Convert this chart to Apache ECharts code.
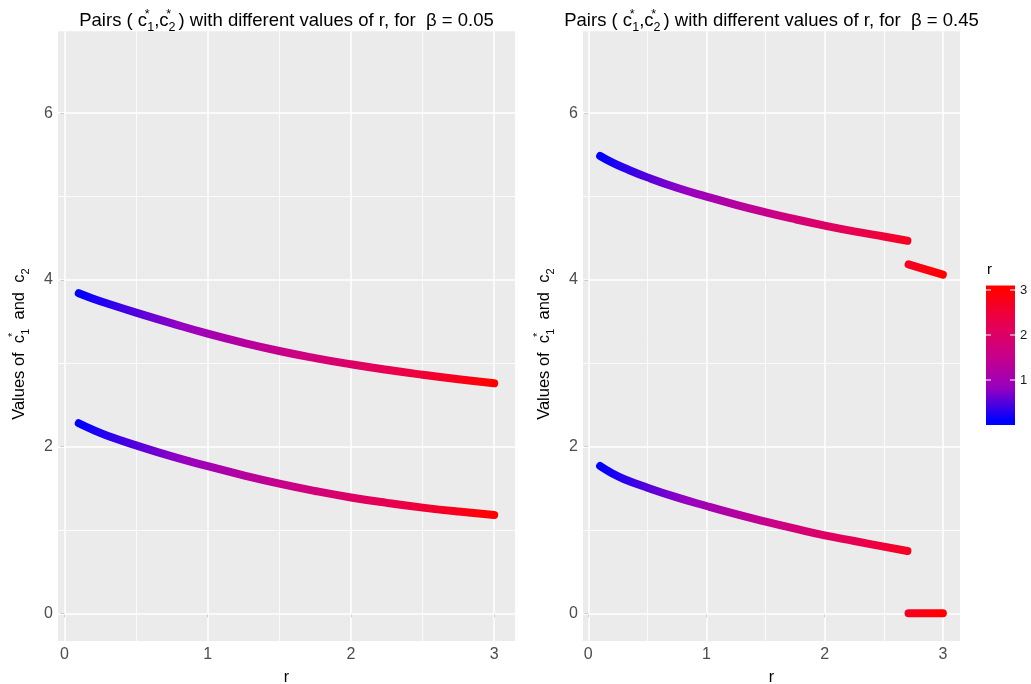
<!DOCTYPE html>
<html>
<head>
<meta charset="utf-8">
<script src="https://cdn.jsdelivr.net/npm/echarts@6/dist/echarts.min.js"></script>
<style>
  html, body { margin: 0; padding: 0; background: #ffffff; }
  #chart { width: 1031px; height: 684px; }
</style>
</head>
<body>
<div id="chart"></div>
<script>
// beta = 0.05 : optimal pairs for each r
const rLeft      = [0.1, 0.2, 0.3, 0.5, 0.75, 1, 1.25, 1.5, 1.75, 2, 2.25, 2.5, 2.75, 3];
const lowerLeft  = [2.28, 2.20, 2.13, 2.015, 1.882, 1.765, 1.655, 1.555, 1.467, 1.39, 1.325, 1.268, 1.22, 1.18];
const upperLeft  = [3.84, 3.775, 3.716, 3.607, 3.478, 3.355, 3.245, 3.147, 3.062, 2.987, 2.921, 2.862, 2.808, 2.76];

// beta = 0.45 : first branch up to r = 2.7, then the branch after the jump
const rRight         = [0.1, 0.2, 0.3, 0.5, 0.75, 1, 1.25, 1.5, 1.75, 2, 2.25, 2.5, 2.7];
const lowerRight     = [1.767, 1.68, 1.612, 1.507, 1.39, 1.287, 1.19, 1.10, 1.015, 0.935, 0.867, 0.80, 0.747];
const upperRight     = [5.487, 5.41, 5.345, 5.23, 5.105, 5.0, 4.9, 4.81, 4.728, 4.652, 4.582, 4.52, 4.47];
const rRightTail     = [2.71, 2.8, 2.9, 3.0];
const lowerRightTail = [0, 0, 0, 0];
const upperRightTail = [4.187, 4.148, 4.105, 4.063];

// axis breaks
const xTicks = [0, 1, 2, 3];
const yTicks = [0, 2, 4, 6];
const xMinor = [0.5, 1.5, 2.5];
const yMinor = [1, 3, 5];
const legendTicks = [1, 2, 3];

const FONT = 'Liberation Sans, Arial, Helvetica, sans-serif';
const R_MIN = 0.1, R_MAX = 3;
const GRADIENT = ['#0000FF', '#9700C0', '#C90088', '#E80050', '#FF0000'];

const chart = echarts.init(document.getElementById('chart'), null, { renderer: 'canvas' });

function scriptRich(size) {
  return {
    st: { fontSize: size, fontFamily: FONT, color: '#000', verticalAlign: 'top', lineHeight: size, width: 0.1, align: 'left' },
    sb: { fontSize: size, fontFamily: FONT, color: '#000', verticalAlign: 'bottom', lineHeight: size },
    gap: { fontSize: size, fontFamily: FONT, width: 3 },
    pad: { fontSize: size, fontFamily: FONT, width: 16 }
  };
}

function curve(idx, xs, ys) {
  return {
    type: 'line',
    xAxisIndex: idx,
    yAxisIndex: idx,
    data: xs.map((r, i) => [r, ys[i]]),
    symbol: 'none',
    showSymbol: false,
    smooth: 0.5,
    lineStyle: { width: 8, cap: 'round', join: 'round' },
    silent: true,
    z: 3
  };
}

function gridLines(idx) {
  const major = { color: '#FFFFFF', width: 1.5, type: 'solid' };
  const minor = { color: '#FFFFFF', width: 0.8, type: 'solid' };
  const data = []
    .concat(xTicks.map(v => ({ xAxis: v, lineStyle: major })))
    .concat(xMinor.map(v => ({ xAxis: v, lineStyle: minor })))
    .concat(yTicks.map(v => ({ yAxis: v, lineStyle: major })))
    .concat(yMinor.map(v => ({ yAxis: v, lineStyle: minor })));
  return {
    type: 'line',
    xAxisIndex: idx,
    yAxisIndex: idx,
    data: [],
    silent: true,
    z: 1,
    markLine: {
      silent: true,
      z: 1,
      symbol: ['none', 'none'],
      label: { show: false },
      lineStyle: { type: 'solid', color: '#FFFFFF' },
      animation: false,
      data: data
    }
  };
}

function xAxis(idx) {
  return {
    gridIndex: idx,
    type: 'value',
    min: -0.045,
    max: 3.145,
    name: 'r',
    nameLocation: 'middle',
    nameGap: 29,
    nameTextStyle: { fontSize: 16, color: '#000', fontFamily: FONT },
    axisLine: { show: false },
    axisTick: { show: true, length: 4, customValues: xTicks, lineStyle: { color: '#333333', width: 1 } },
    axisLabel: { customValues: xTicks, fontSize: 16, color: '#4D4D4D', fontFamily: FONT, margin: 6 },
    splitLine: { show: false }
  };
}

function yAxis(idx) {
  return {
    gridIndex: idx,
    type: 'value',
    min: -0.3325,
    max: 6.9825,
    name: 'Values of  c{st|*}{sb|1}  and  c{sb|2}{pad| }',
    nameLocation: 'middle',
    nameGap: 27,
    nameTextStyle: { fontSize: 16.5, color: '#000', fontFamily: FONT, lineHeight: 24, rich: scriptRich(11) },
    axisLine: { show: false },
    axisTick: { show: true, length: 4, customValues: yTicks, lineStyle: { color: '#333333', width: 1 } },
    axisLabel: { customValues: yTicks, fontSize: 16, color: '#4D4D4D', fontFamily: FONT, margin: 5 },
    splitLine: { show: false }
  };
}

function panelTitle(beta, centerX) {
  return {
    text: 'Pairs ( c{st|*}{sb|1},c{st|*}{sb|2}{gap| }) with different values of r, for  \u03B2 = ' + beta,
    left: centerX,
    top: 8,
    textAlign: 'center',
    padding: 0,
    textStyle: {
      fontSize: 18.5, fontWeight: 'normal', color: '#000', fontFamily: FONT, lineHeight: 26,
      rich: scriptRich(12.5)
    }
  };
}

// colour bar: r = 3 at the top tick, r = 0.1 near the bottom, with a short overhang at both ends
const BAR = { left: 986, width: 29, yTop3: 290, unit: 45, overhang: 4.5 };
const barY = v => BAR.yTop3 + (R_MAX - v) * BAR.unit;
const barTop = barY(R_MAX) - BAR.overhang;
const barBottom = barY(R_MIN) + BAR.overhang;
const barH = barBottom - barTop;
const gradStops = [{ offset: 0, color: GRADIENT[0] }];
GRADIENT.forEach((c, i) => {
  gradStops.push({ offset: (BAR.overhang + i / (GRADIENT.length - 1) * (barH - 2 * BAR.overhang)) / barH, color: c });
});
gradStops.push({ offset: 1, color: GRADIENT[GRADIENT.length - 1] });

const legendGraphics = [
  {
    type: 'rect',
    shape: { x: BAR.left, y: barTop, width: BAR.width, height: barH },
    style: { fill: new echarts.graphic.LinearGradient(0, 1, 0, 0, gradStops) },
    z: 90
  },
  { type: 'text', x: BAR.left + 1, y: 270,
    style: { text: 'r', fontSize: 15, fontFamily: FONT, fill: '#000', textVerticalAlign: 'middle' } }
];
legendTicks.forEach(v => {
  const y = barY(v);
  legendGraphics.push(
    { type: 'line', shape: { x1: BAR.left, y1: y, x2: BAR.left + 5, y2: y }, style: { stroke: '#FFFFFF', lineWidth: 1 }, z: 100 },
    { type: 'line', shape: { x1: BAR.left + BAR.width - 5, y1: y, x2: BAR.left + BAR.width, y2: y }, style: { stroke: '#FFFFFF', lineWidth: 1 }, z: 100 },
    { type: 'text', x: BAR.left + BAR.width + 5, y: y,
      style: { text: String(v), fontSize: 13, fontFamily: FONT, fill: '#1A1A1A', textVerticalAlign: 'middle' } }
  );
});

const option = {
  animation: false,
  backgroundColor: '#FFFFFF',
  title: [panelTitle('0.05', 286.5), panelTitle('0.45', 771.5)],
  grid: [
    { left: 58, top: 31.3, width: 457, height: 609.7, show: true, backgroundColor: '#EBEBEB', borderWidth: 0, containLabel: false, outerBoundsMode: 'none' },
    { left: 583, top: 31.3, width: 377, height: 609.7, show: true, backgroundColor: '#EBEBEB', borderWidth: 0, containLabel: false, outerBoundsMode: 'none' }
  ],
  xAxis: [xAxis(0), xAxis(1)],
  yAxis: [yAxis(0), yAxis(1)],
  visualMap: {
    type: 'continuous',
    min: R_MIN,
    max: R_MAX,
    dimension: 0,
    seriesIndex: [2, 3, 4, 5, 6, 7],
    inRange: { color: GRADIENT },
    show: false
  },
  graphic: legendGraphics,
  series: [
    gridLines(0),
    gridLines(1),
    curve(0, rLeft, lowerLeft),
    curve(0, rLeft, upperLeft),
    curve(1, rRight, lowerRight),
    curve(1, rRight, upperRight),
    curve(1, rRightTail, lowerRightTail),
    curve(1, rRightTail, upperRightTail)
  ]
};

chart.setOption(option);
</script>
</body>
</html>
